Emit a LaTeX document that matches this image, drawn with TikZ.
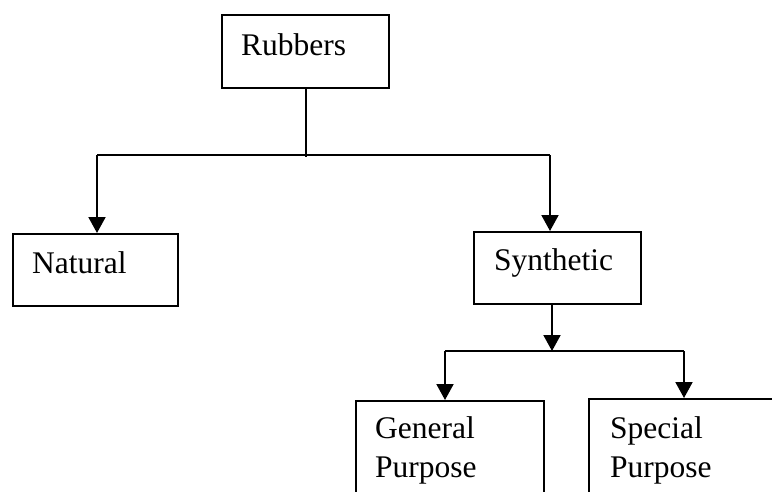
\documentclass[tikz,border=0pt]{standalone}
\usepackage{fontspec}
\setmainfont{Liberation Serif}
\usetikzlibrary{arrows.meta}

\tikzset{
  box/.style={draw, line width=2pt, anchor=north west, inner sep=0pt},
  lbl/.style={anchor=base west, inner sep=0pt, align=left,
    font=\fontsize{31.5}{39}\selectfont},
  link/.style={line width=2pt},
  arr/.style={link, -{Triangle[length=16pt,width=17pt]}}
}

\begin{document}
\begin{tikzpicture}[x=1pt, y=-1pt]
  \useasboundingbox (0,0) rectangle (772,491);
  \clip (0,0) rectangle (772,491);

  % boxes (the two lowest run past the lower edge)
  \node[box, minimum width=167pt, minimum height=73pt] (rub) at (221,14) {};
  \node[box, minimum width=165pt, minimum height=72pt] (nat) at (12,233) {};
  \node[box, minimum width=167pt, minimum height=72pt] (syn) at (473,231) {};
  \node[box, minimum width=188pt, minimum height=140pt] (gen) at (355,400) {};
  \node[box, minimum width=200pt, minimum height=140pt] (spe) at (588,398) {};

  % labels (multi-line labels sit on their last baseline)
  \node[lbl] (rubt) at (241,55) {Rubbers};
  \node[lbl] (natt) at (32,273) {Natural};
  \node[lbl] (synt) at (494,270) {Synthetic};
  \node[lbl] (gent) at (375,477) {General\\Purpose};
  \node[lbl] (spet) at (610,477) {Special\\Purpose};

  % first level
  \path (rub.south) ++(0,68) coordinate (s1);
  \coordinate (h1l) at (97,155);
  \coordinate (h1r) at (550,155);
  \draw[link] (rub.south) -- (s1);
  \draw[link] (h1l) -- (h1r);
  \draw[arr] (h1l) -- (h1l |- nat.north);
  \draw[arr] (h1r) -- (h1r |- syn.north);

  % second level
  \coordinate (s2) at (552,351);
  \coordinate (h2l) at (445,351);
  \coordinate (h2r) at (684,351);
  \draw[arr] (syn.south -| s2) -- (s2);
  \draw[link] (h2l) -- (h2r);
  \draw[arr] (h2l) -- (h2l |- gen.north);
  \draw[arr] (h2r) -- (h2r |- spe.north);
\end{tikzpicture}
\end{document}
